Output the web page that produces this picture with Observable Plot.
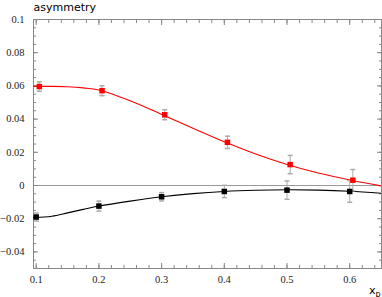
<!DOCTYPE html>
<html><head><meta charset="utf-8">
<script src="https://cdn.jsdelivr.net/npm/d3@7"></script>
<script src="https://cdn.jsdelivr.net/npm/@observablehq/plot@0.6"></script>
<style>body{margin:0;background:#fff}#chart{width:382px;height:297px}</style>
</head><body><div id="chart"></div>
<script>
// measured points
const blackX = [0.1, 0.2, 0.3, 0.4, 0.5, 0.6];
const redX = [0.105, 0.205, 0.305, 0.405, 0.505, 0.605];
const redY = [0.0596, 0.0571, 0.0426, 0.0260, 0.0126, 0.0032];
const redErr = [0.0028, 0.0030, 0.0030, 0.0037, 0.0055, 0.0064];
const blackY = [-0.0190, -0.0124, -0.0068, -0.0036, -0.0028, -0.0036];
const blackErr = [0.0024, 0.0030, 0.0025, 0.0037, 0.0055, 0.0065];
// fitted curves
const curveX = [0.096, 0.125, 0.15, 0.175, 0.2, 0.25, 0.3, 0.35, 0.4, 0.45, 0.5, 0.55, 0.6, 0.651];
const redCurve = [0.0597, 0.0597, 0.0595, 0.0588, 0.0575, 0.0510, 0.0428, 0.0345, 0.0263, 0.0190, 0.0127, 0.0075, 0.0033, -0.0003];
const blackCurve = [-0.0193, -0.0185, -0.0165, -0.0144, -0.0124, -0.0094, -0.0068, -0.0049, -0.0036, -0.0029, -0.0026, -0.0028, -0.0035, -0.0047];
// ticks
const xTicks = [0.1, 0.2, 0.3, 0.4, 0.5, 0.6];
const xLabels = ["0.1", "0.2", "0.3", "0.4", "0.5", "0.6"];
const yTicks = [-0.04, -0.02, 0, 0.02, 0.04, 0.06, 0.08, 0.1];
const yLabels = ["\u22120.04", "\u22120.02", "0", "0.02", "0.04", "0.06", "0.08", "0.1"];
const xMinor = d3.range(0, 28).map(i => +(0.1 + i * 0.02).toFixed(3)).filter(v => v < 0.651);
const yMinor = d3.range(0, 31).map(i => +(-0.05 + i * 0.005).toFixed(4));

const red = redX.map((x, i) => ({x, y: redY[i], lo: redY[i] - redErr[i], hi: redY[i] + redErr[i]}));
const black = blackX.map((x, i) => ({x, y: blackY[i], lo: blackY[i] - blackErr[i], hi: blackY[i] + blackErr[i]}));
const redLine = curveX.map((x, i) => ({x, y: redCurve[i]}));
const blackLine = curveX.map((x, i) => ({x, y: blackCurve[i]}));

const cap = {draw(ctx, size) { const r = Math.sqrt(size / Math.PI); ctx.moveTo(-r, 0); ctx.lineTo(r, 0); }};
const axisStyle = {stroke: "#888", label: null, tickFormat: () => ""};

const chart = Plot.plot({
  width: 382, height: 297,
  marginLeft: 33, marginRight: 1, marginTop: 19, marginBottom: 29,
  style: {background: "#fff", fontFamily: "Liberation Serif", fontSize: "10.5px", color: "#222"},
  x: {domain: [0.0957, 0.6507]},
  y: {domain: [-0.05, 0.1]},
  marks: [
    Plot.ruleY([0], {stroke: "#999"}),
    Plot.axisX({anchor: "bottom", ticks: xMinor, tickSize: -3, ...axisStyle}),
    Plot.axisX({anchor: "bottom", ticks: xTicks, tickSize: -5, ...axisStyle}),
    Plot.axisX({anchor: "top", ticks: xMinor, tickSize: -3, ...axisStyle}),
    Plot.axisX({anchor: "top", ticks: xTicks, tickSize: -5, ...axisStyle}),
    Plot.axisY({anchor: "left", ticks: yMinor, tickSize: -3, ...axisStyle}),
    Plot.axisY({anchor: "left", ticks: yTicks, tickSize: -5, ...axisStyle}),
    Plot.axisY({anchor: "right", ticks: yMinor, tickSize: -3, ...axisStyle}),
    Plot.axisY({anchor: "right", ticks: yTicks, tickSize: -5, ...axisStyle}),
    Plot.axisX({anchor: "bottom", ticks: xTicks, tickSize: 0, tickPadding: 7, label: null,
      tickFormat: d => xLabels[xTicks.indexOf(d)]}),
    Plot.axisY({anchor: "left", ticks: yTicks, tickSize: 0, tickPadding: 9, label: null,
      tickFormat: d => yLabels[yTicks.indexOf(d)]}),
    Plot.frame({stroke: "#888"}),
    Plot.line(redLine, {x: "x", y: "y", stroke: "#ff0000", strokeWidth: 1.1, curve: "catmull-rom", clip: true}),
    Plot.line(blackLine, {x: "x", y: "y", stroke: "#000", strokeWidth: 1.1, curve: "catmull-rom", clip: true}),
    Plot.ruleX(red, {x: "x", y1: "lo", y2: "hi", stroke: "#aaa"}),
    Plot.ruleX(black, {x: "x", y1: "lo", y2: "hi", stroke: "#aaa"}),
    Plot.dot(red, {x: "x", y: "lo", symbol: cap, r: 2.5, stroke: "#aaa", fill: "none"}),
    Plot.dot(red, {x: "x", y: "hi", symbol: cap, r: 2.5, stroke: "#aaa", fill: "none"}),
    Plot.dot(black, {x: "x", y: "lo", symbol: cap, r: 2.5, stroke: "#aaa", fill: "none"}),
    Plot.dot(black, {x: "x", y: "hi", symbol: cap, r: 2.5, stroke: "#aaa", fill: "none"}),
    Plot.dot(red, {x: "x", y: "y", symbol: "square", r: 3.1, fill: "#ff0000", stroke: null}),
    Plot.dot(black, {x: "x", y: "y", symbol: "square", r: 3.1, fill: "#000", stroke: null}),
    Plot.text(["asymmetry"], {frameAnchor: "top-left", dx: 0, dy: -9, textAnchor: "start", lineAnchor: "bottom",
      fontFamily: "DejaVu Sans", fontSize: 11, fill: "#000"}),
    Plot.text(["x"], {frameAnchor: "bottom-right", dx: -6, dy: 25, textAnchor: "end", lineAnchor: "bottom",
      fontFamily: "DejaVu Sans", fontSize: 11, fill: "#000"}),
    Plot.text(["p"], {frameAnchor: "bottom-right", dx: -1, dy: 28, textAnchor: "end", lineAnchor: "bottom",
      fontFamily: "DejaVu Sans", fontSize: 8, fill: "#000"})
  ]
});
document.getElementById("chart").append(chart);
</script>
</body></html>
